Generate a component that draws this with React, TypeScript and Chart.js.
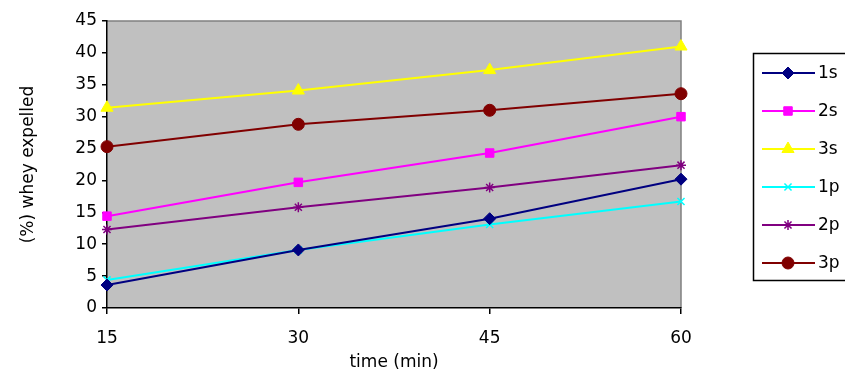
import React, { useEffect, useRef } from 'react';
import { Chart, registerables } from 'chart.js';
import { drawPoint } from 'chart.js/helpers';

Chart.register(...registerables);

const times = ['15', '30', '45', '60'];
const s1 = [3.6, 9.1, 14.0, 20.2];
const s2 = [14.4, 19.7, 24.3, 30.0];
const s3 = [31.4, 34.1, 37.3, 41.0];
const p1 = [4.4, 9.1, 13.1, 16.7];
const p2 = [12.3, 15.8, 18.9, 22.4];
const p3 = [25.3, 28.8, 31.0, 33.6];
const seriesNames = ['1s', '2s', '3s', '1p', '2p', '3p'];
const yTicks = [0, 5, 10, 15, 20, 25, 30, 35, 40, 45];

const FONT = '"DejaVu Sans", "Liberation Sans", Arial, sans-serif';

const bgPlugin = {
  id: 'plotBg',
  beforeDraw(chart: any) {
    const { ctx, chartArea } = chart;
    ctx.save();
    ctx.fillStyle = '#c0c0c0';
    ctx.fillRect(chartArea.left, chartArea.top, chartArea.right - chartArea.left, chartArea.bottom - chartArea.top);
    ctx.strokeStyle = '#808080';
    ctx.lineWidth = 1.5;
    ctx.beginPath();
    ctx.moveTo(chartArea.left, chartArea.top);
    ctx.lineTo(chartArea.right, chartArea.top);
    ctx.lineTo(chartArea.right, chartArea.bottom);
    ctx.stroke();
    ctx.restore();
  },
};

const legendPlugin = {
  id: 'boxLegend',
  afterDraw(chart: any) {
    const ctx = chart.ctx;
    ctx.save();
    ctx.strokeStyle = '#000';
    ctx.lineWidth = 1.5;
    ctx.strokeRect(753.5, 53.5, 140, 227);
    chart.data.datasets.forEach((ds: any, i: number) => {
      const y = 73 + i * 38;
      ctx.strokeStyle = ds.borderColor;
      ctx.lineWidth = 2;
      ctx.beginPath();
      ctx.moveTo(762, y);
      ctx.lineTo(815, y);
      ctx.stroke();
      ctx.fillStyle = ds.backgroundColor;
      ctx.strokeStyle = ds.borderColor;
      ctx.lineWidth = ds.pointBorderWidth;
      drawPoint(ctx, { pointStyle: ds.pointStyle, radius: ds.pointRadius, borderWidth: ds.pointBorderWidth, rotation: 0 } as any, 788, y);
      ctx.fillStyle = '#000';
      ctx.font = `17px ${FONT}`;
      ctx.textBaseline = 'middle';
      ctx.textAlign = 'left';
      ctx.fillText(ds.label, 818, y + 1);
    });
    ctx.restore();
  },
};

function mk(label: string, data: number[], color: string, style: string, radius: number, bw: number) {
  return {
    label,
    data,
    borderColor: color,
    backgroundColor: color,
    borderWidth: 2,
    pointStyle: style,
    pointRadius: radius,
    pointBorderWidth: bw,
    pointBackgroundColor: color,
    pointBorderColor: color,
    tension: 0,
  };
}

export default function App() {
  const ref = useRef<HTMLCanvasElement>(null);
  useEffect(() => {
    if (!ref.current) return;
    const chart = new Chart(ref.current, {
      type: 'line',
      data: {
        labels: times,
        datasets: [
          mk(seriesNames[0], s1, '#000080', 'rectRot', 6, 1),
          mk(seriesNames[1], s2, '#ff00ff', 'rect', 6, 1),
          mk(seriesNames[2], s3, '#ffff00', 'triangle', 7, 1),
          mk(seriesNames[3], p1, '#00ffff', 'crossRot', 5, 1.5),
          mk(seriesNames[4], p2, '#800080', 'star', 5, 1.5),
          mk(seriesNames[5], p3, '#800000', 'circle', 6, 1),
        ],
      },
      options: {
        responsive: false,
        devicePixelRatio: 1,
        animation: false,
        layout: { padding: { left: 0, top: 21, right: 164, bottom: 0 } },
        plugins: { legend: { display: false }, tooltip: { enabled: false } },
        scales: {
          x: {
            type: 'category',
            offset: false,
            grid: { drawOnChartArea: false, drawTicks: true, tickLength: 6, color: '#000', lineWidth: 1.5 },
            border: { color: '#000', width: 1.5 },
            ticks: { color: '#000', font: { family: FONT, size: 17 }, padding: 14, maxRotation: 0 },
            title: { display: true, text: 'time (min)', color: '#000', font: { family: FONT, size: 17 }, padding: { top: 0, bottom: 3 } },
            afterFit(s: any) { s.height = 68; },
          },
          y: {
            min: 0,
            max: 45,
            afterBuildTicks(s: any) { s.ticks = yTicks.map((v) => ({ value: v })); },
            grid: { drawOnChartArea: false, drawTicks: true, tickLength: 5, color: '#000', lineWidth: 1.5 },
            border: { color: '#000', width: 1.5 },
            ticks: { color: '#000', font: { family: FONT, size: 17 }, padding: 5 },
            title: { display: true, text: '(%) whey expelled', color: '#000', font: { family: FONT, size: 17 }, padding: { top: 18, bottom: 0 } },
            afterFit(s: any) { s.width = 107; },
          },
        },
      },
      plugins: [bgPlugin, legendPlugin],
    });
    return () => chart.destroy();
  }, []);
  return (
    <div style={{ position: 'fixed', left: 0, top: 0, width: 845, height: 376, background: '#fff' }}>
      <canvas ref={ref} width={845} height={376} style={{ width: 845, height: 376, display: 'block' }} />
    </div>
  );
}
